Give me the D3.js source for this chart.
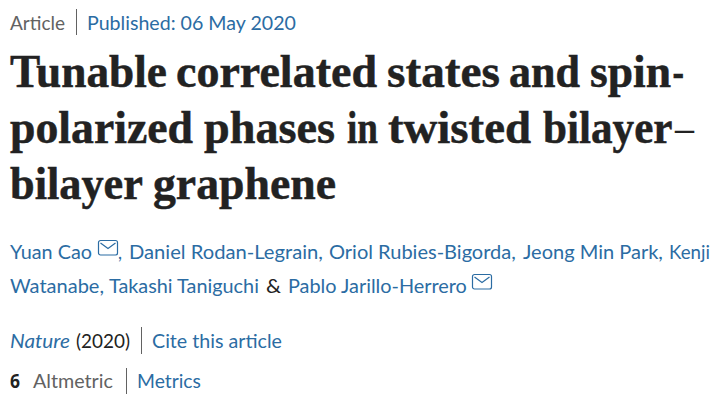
<!DOCTYPE html>
<html><head><meta charset="utf-8">
<script src="https://cdn.jsdelivr.net/npm/d3@7"></script>
<style>html,body{margin:0;padding:0;background:#fff}svg{display:block}</style>
</head><body><div id="c"></div>
<script>
const titleLine1 = ["Tunable","correlated","states","and","spin","-"];
const titleLine2 = ["polarized","phases","in","twisted","bilayer","\u2013"];
const titleLine3 = ["bilayer","graphene"];
const metaTexts = ["Article","Published: 06 May 2020"];
const authorsLine1 = ["Yuan Cao",",","Daniel Rodan-Legrain,","Oriol Rubies-Bigorda,","Jeong Min Park,","Kenji"];
const authorsLine2 = ["Watanabe,","Takashi Taniguchi","&","Pablo Jarillo-Herrero"];
const journalTexts = ["Nature","(2020)","Cite this article"];
const metricTexts = ["6","Altmetric","Metrics"];

const LINK="#2b6ca3", GREY="#626262", INK="#222222";
const sans="Lato,'Open Sans',sans-serif";
const svg=d3.select("#c").append("svg").attr("width",714).attr("height",403);

const T={size:46,weight:700,serif:true,bold:true};
const D={size:46,weight:400,serif:true};
// [text, x, right edge, baseline, colour, options]
const layout=[
 [metaTexts[0],10,65,30,GREY],
 [metaTexts[1],87,296,30,LINK],
 [titleLine1[0],10,167,87,INK,T],
 [titleLine1[1],176,377,87,INK,T],
 [titleLine1[2],387,500,87,INK,T],
 [titleLine1[3],509,580,87,INK,T],
 [titleLine1[4],590,671,87,INK,T],
 [titleLine1[5],672.5,684,87,INK,{...T}],
 [titleLine2[0],10,193,143,INK,T],
 [titleLine2[1],204,335,143,INK,T],
 [titleLine2[2],347,378,143,INK,T],
 [titleLine2[3],388,531,143,INK,T],
 [titleLine2[4],543,672.5,143,INK,T],
 [titleLine2[5],675,694,143,INK,D],
 [titleLine3[0],10,143,199,INK,T],
 [titleLine3[1],153,336,199,INK,T],
 [authorsLine1[0],10,92,259,LINK],
 [authorsLine1[1],118,122,259,LINK],
 [authorsLine1[2],129,323,259,LINK],
 [authorsLine1[3],329,516,259,LINK],
 [authorsLine1[4],523,663,259,LINK],
 [authorsLine1[5],669,710,259,LINK],
 [authorsLine2[0],10,104,293,LINK],
 [authorsLine2[1],109,259,293,LINK],
 [authorsLine2[2],266,281,293,INK],
 [authorsLine2[3],288,467,293,LINK],
 [journalTexts[0],10,70,348,LINK,{italic:true}],
 [journalTexts[1],76,130,348,INK],
 [journalTexts[2],152,282,348,LINK],
 [metricTexts[0],10,20,388,INK,{weight:700,open:true}],
 [metricTexts[1],33,113,388,GREY],
 [metricTexts[2],137,201,388,LINK]
];
svg.selectAll("text").data(layout).join("text")
 .attr("fill",d=>d[4])
 .attr("stroke",d=>d[5]&&d[5].bold?d[4]:"none").attr("stroke-width",d=>d[5]&&d[5].bold?0.5:0)
 .attr("font-size",d=>(d[5]&&d[5].size)||20)
 .attr("font-weight",d=>(d[5]&&d[5].weight)||400)
 .attr("font-style",d=>d[5]&&d[5].italic?"italic":"normal")
 .attr("font-family",d=>d[5]&&d[5].serif?"'Liberation Serif',serif":d[5]&&d[5].open?"'Open Sans',sans-serif":sans)
 .text(d=>d[0])
 .attr("transform",function(d){
   const sx=(d[2]-d[1])/this.getComputedTextLength();
   return `translate(${d[1]},${d[3]}) scale(${sx},1)`;
 });

const seps=[[76.5,9,35],[141.5,327,354],[126.5,368,394]];
svg.selectAll("line.sep").data(seps).join("line").attr("class","sep")
 .attr("x1",d=>d[0]).attr("x2",d=>d[0]).attr("y1",d=>d[1]).attr("y2",d=>d[2])
 .attr("stroke",GREY).attr("stroke-width",1);

const icons=[[98,240],[472,274]];
const g=svg.selectAll("g.mail").data(icons).join("g").attr("class","mail")
 .attr("transform",d=>`translate(${d[0]},${d[1]})`)
 .attr("fill","none").attr("stroke",LINK).attr("stroke-width",1.2);
g.append("rect").attr("x",.5).attr("y",.5).attr("width",19).attr("height",14.5).attr("rx",2);
g.append("path").attr("d","M2.5 3 L10 8.5 L17.5 3");
</script></body></html>
